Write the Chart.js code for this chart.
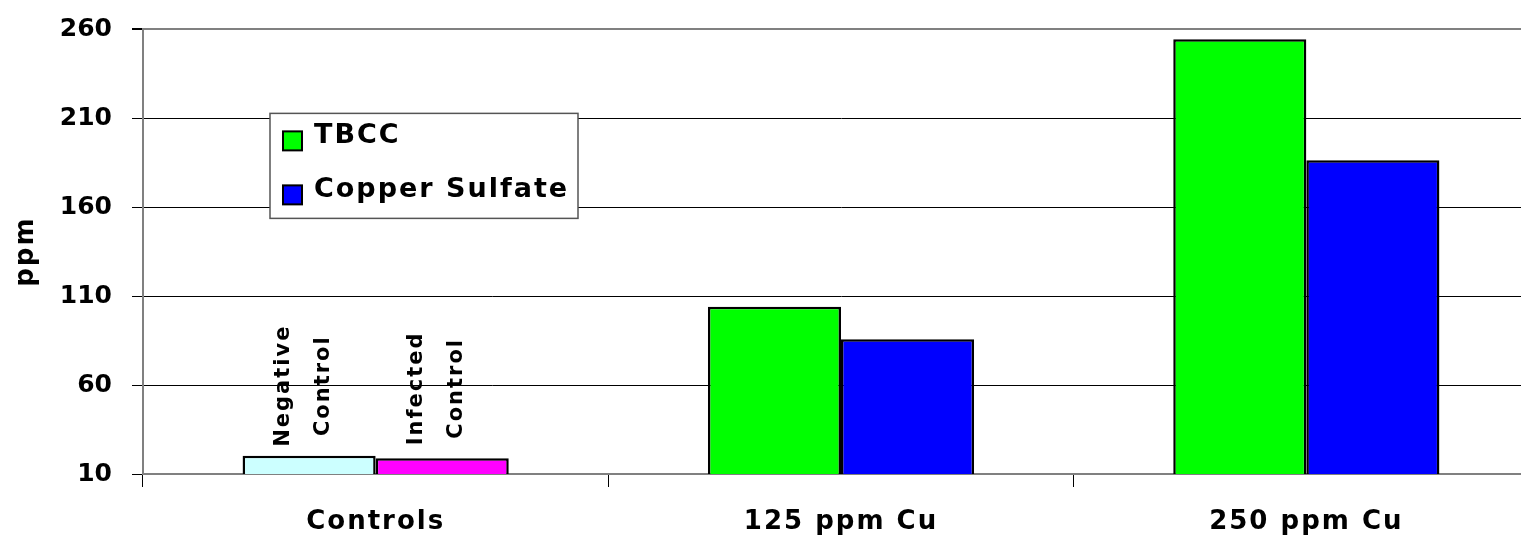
<!DOCTYPE html>
<html>
<head>
<meta charset="utf-8">
<script src="https://cdn.jsdelivr.net/npm/chart.js@4"></script>
<style>
  html, body { margin: 0; padding: 0; background: #fff; overflow: hidden; }
  #wrap { width: 1541px; height: 537px; }
</style>
</head>
<body>
<div id="wrap"><canvas id="chart" width="1541" height="537"></canvas></div>
<script>
const categories = ['Controls', '125 ppm Cu', '250 ppm Cu'];
const tbccValues = [20.3, 104, 254.4];
const sulfateValues = [18.8, 85.7, 186.4];
const tbccColors = ['#CCFFFF', '#00FF00', '#00FF00'];
const sulfateColors = ['#FF00FF', '#0000FF', '#0000FF'];
const tbccNotes = [['Negative', 'Control'], null, null];
const sulfateNotes = [['Infected', 'Control'], null, null];
const yMin = 10;
const yMax = 260;
const yStep = 50;

const FONT = '"DejaVu Sans", Verdana, sans-serif';

// the old export spreads its letters out a bit, except the y numbers
const spacing = {
  id: 'spacing',
  beforeUpdate(chart) { chart.ctx.letterSpacing = '2px'; },
  beforeDraw(chart) {
    chart.ctx.letterSpacing = '2px';
    const y = chart.scales.y;
    if (y && !y._plain) {
      const orig = y.drawLabels;
      y.drawLabels = function (area) {
        const prev = this.ctx.letterSpacing;
        this.ctx.letterSpacing = '0px';
        orig.call(this, area);
        this.ctx.letterSpacing = prev;
      };
      y._plain = true;
    }
  },
};

// vertical two-line notes above the control bars
const barNotes = {
  id: 'barNotes',
  afterDatasetsDraw(chart) {
    const ctx = chart.ctx;
    chart.data.datasets.forEach((ds, i) => {
      const meta = chart.getDatasetMeta(i);
      (ds.notes || []).forEach((lines, j) => {
        if (!lines) return;
        const bar = meta.data[j];
        ctx.save();
        ctx.font = 'bold 21px ' + FONT;
        ctx.fillStyle = '#000';
        ctx.textAlign = 'center';
        ctx.textBaseline = 'alphabetic';
        ctx.translate(bar.x, bar.y - 70);
        ctx.rotate(-Math.PI / 2);
        lines.forEach((t, k) => {
          ctx.fillText(t, 0, (k - (lines.length - 1) / 2) * 40);
        });
        ctx.restore();
      });
    });
  },
};

// boxed legend sitting inside the plot
const boxLegend = {
  id: 'boxLegend',
  afterDraw(chart) {
    const ctx = chart.ctx;
    const left = chart.chartArea.left + 127;
    const top = chart.chartArea.top + 84;
    ctx.save();
    ctx.fillStyle = '#fff';
    ctx.fillRect(left, top, 308, 105);
    ctx.strokeStyle = '#555';
    ctx.lineWidth = 1.5;
    ctx.strokeRect(left, top, 308, 105);
    ctx.font = 'bold 27px ' + FONT;
    ctx.textBaseline = 'middle';
    chart.data.datasets.forEach((ds, i) => {
      const cy = top + 27 + i * 54;
      ctx.fillStyle = ds.legendColor;
      ctx.fillRect(left + 13, cy - 9, 19, 19);
      ctx.strokeStyle = '#000';
      ctx.lineWidth = 2;
      ctx.strokeRect(left + 13, cy - 9, 19, 19);
      ctx.fillStyle = '#000';
      ctx.fillText(ds.label, left + 44, cy - 4);
    });
    ctx.restore();
  },
};

const ctx = document.getElementById('chart').getContext('2d');

new Chart(ctx, {
  type: 'bar',
  data: {
    labels: categories,
    datasets: [
      {
        label: 'TBCC',
        data: tbccValues,
        backgroundColor: tbccColors,
        legendColor: '#00FF00',
        notes: tbccNotes,
        borderColor: '#000',
        borderWidth: 2.5,
        borderSkipped: false,
      },
      {
        label: 'Copper Sulfate',
        data: sulfateValues,
        backgroundColor: sulfateColors,
        legendColor: '#0000FF',
        notes: sulfateNotes,
        borderColor: '#000',
        borderWidth: 2.5,
        borderSkipped: false,
      },
    ],
  },
  options: {
    responsive: false,
    animation: false,
    devicePixelRatio: 1,
    layout: { padding: { left: 0, top: 18, right: 2, bottom: 0 } },
    categoryPercentage: 0.572,
    barPercentage: 1,
    plugins: {
      legend: { display: false },
      tooltip: { enabled: false },
    },
    scales: {
      x: {
        afterFit(scale) { scale.height = 63; },
        grid: {
          drawOnChartArea: false,
          drawTicks: true,
          tickLength: 13,
          tickColor: '#000',
          offset: true,
        },
        border: { color: '#808080', width: 2 },
        ticks: {
          color: '#000',
          padding: 20,
          font: { family: FONT, size: 26, weight: 'bold' },
        },
      },
      y: {
        min: yMin,
        max: yMax,
        afterFit(scale) { scale.width = 143; },
        grid: {
          color: c => (c.tick && c.tick.value === yMax ? '#808080' : '#000'),
          lineWidth: c => (c.tick && c.tick.value === yMax ? 2 : 1),
          tickColor: '#000',
          tickLength: 11,
        },
        border: { color: '#808080', width: 2 },
        ticks: {
          stepSize: yStep,
          color: '#000',
          padding: 20,
          font: { family: FONT, size: 25, weight: 'bold', lineHeight: 0.75 },
        },
        title: {
          display: true,
          text: 'ppm',
          color: '#000',
          padding: { top: 11, bottom: 0 },
          font: { family: FONT, size: 26, weight: 'bold' },
        },
      },
    },
  },
  plugins: [spacing, barNotes, boxLegend],
});
</script>
</body>
</html>
